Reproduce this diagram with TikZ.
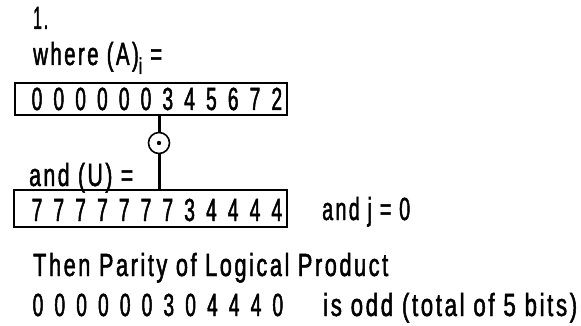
\documentclass[tikz,border=0pt]{standalone}
\usepackage{fontspec}
\setmainfont{Liberation Sans}[FakeStretch=0.68,LetterSpace=8,FakeBold=1.5]
\newfontfamily\digfont{Liberation Sans}[FakeStretch=0.6,FakeBold=1.5]
\usepackage{graphicx}
\newcommand\fitw[2]{\resizebox{#1}{\height}{#2}}
\begin{document}
\begin{tikzpicture}[x=1pt,y=-1pt,
  txt/.style={anchor=base west,inner sep=0pt,font=\fontsize{32}{35}\selectfont},
  dig/.style={anchor=base,inner sep=0pt,font=\digfont\fontsize{32}{35}\selectfont},
  regbox/.style={draw,line width=1.2pt,rectangle,inner sep=0pt},
  link/.style={line width=3pt},
  opnode/.style={draw,circle,line width=1.6pt,fill=white,minimum size=21pt,inner sep=0pt}]
\useasboundingbox (0,0) rectangle (581,326);
\node[txt] (one) at (33,29) {\fitw{15pt}{1.}};
\node[txt] (where) at (33,65) {\fitw{129pt}{where (A)\raisebox{-9pt}{\fontsize{23}{23}\selectfont i} =}};
\node[regbox,minimum width=272pt,minimum height=32pt] (boxA) at (151,99) {};
\foreach \d [count=\i from 0] in {0,0,0,0,0,0,3,4,5,6,7,2}
  \node[dig] (a\i) at ({37+21.8*\i},110) {\d};
\node[opnode] (op) at (159,143) {};
\fill (op.center) circle (2.2pt);
\node[txt] (andU) at (29,186) {\fitw{104pt}{and (U) =}};
\node[regbox,minimum width=273pt,minimum height=37pt] (boxU) at (150.5,208.5) {};
\foreach \d [count=\i from 0] in {7,7,7,7,7,7,7,3,4,4,4,4}
  \node[dig] (u\i) at ({37+21.8*\i},221) {\d};
\draw[link] (boxA.south -| op.center) -- (op.north);
\draw[link] (op.south) -- (boxU.north -| op.center);
\node[txt] (andj) at (322,220) {\fitw{88pt}{and j = 0}};
\node[txt] (then) at (33,276) {\fitw{355pt}{Then Parity of Logical Product}};
\foreach \d [count=\i from 0] in {0,0,0,0,0,0,3,0,4,4,4,0}
  \node[dig] (r\i) at ({38+21.8*\i},316) {\d};
\node[txt] (odd) at (323,316) {\fitw{254pt}{is odd (total of 5 bits)}};
\end{tikzpicture}
\end{document}
